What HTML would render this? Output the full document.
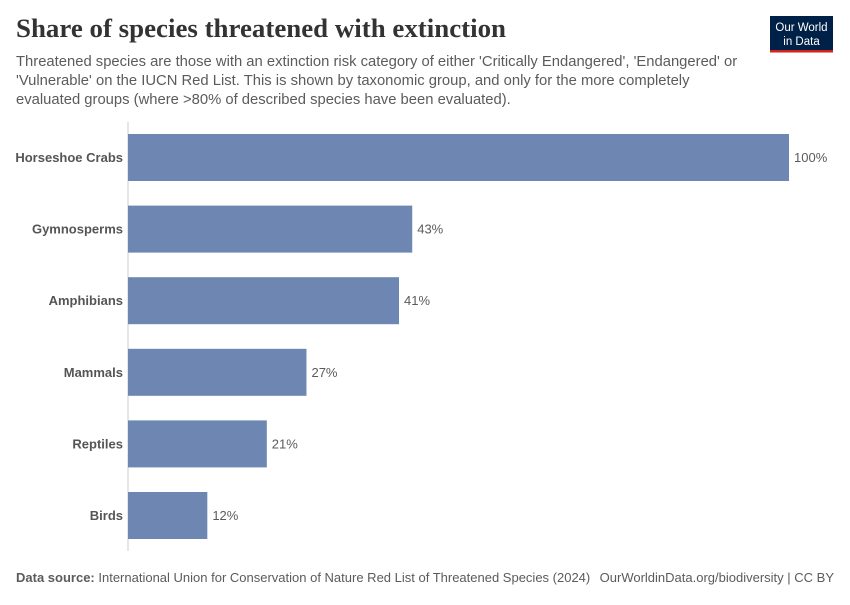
<!DOCTYPE html>
<html><head><meta charset="utf-8"><style>
body{margin:0;background:#fff;width:850px;height:600px;overflow:hidden;font-family:"Liberation Sans",sans-serif;}
</style></head><body>
<svg width="850" height="600" xmlns="http://www.w3.org/2000/svg">
<text x="16" y="37" font-family="Liberation Serif,serif" font-size="26" font-weight="bold" fill="#333" textLength="490" lengthAdjust="spacingAndGlyphs">Share of species threatened with extinction</text>
<g font-size="14.8" fill="#5b5b5b">
<text x="16" y="66">Threatened species are those with an extinction risk category of either 'Critically Endangered', 'Endangered' or</text>
<text x="16" y="85">'Vulnerable' on the IUCN Red List. This is shown by taxonomic group, and only for the more completely</text>
<text x="16" y="104">evaluated groups (where &gt;80% of described species have been evaluated).</text>
</g>
<g>
<rect x="770" y="16" width="63" height="34" fill="#002147"/>
<rect x="770" y="50" width="63" height="2.5" fill="#ce261e"/>
<text x="801.5" y="31" font-size="11.5" fill="#fff" text-anchor="middle">Our World</text>
<text x="801.5" y="45" font-size="11.5" fill="#fff" text-anchor="middle">in Data</text>
</g>
<line x1="128" y1="122" x2="128" y2="551" stroke="#ccc"/>
<g id="bars"></g>
<text x="16" y="582" font-size="13" fill="#5b5b5b"><tspan font-weight="bold">Data source:</tspan> International Union for Conservation of Nature Red List of Threatened Species (2024)</text>
<text x="834" y="582" font-size="13" fill="#5b5b5b" text-anchor="end">OurWorldinData.org/biodiversity | CC BY</text>
</svg>
<script>
const categories=["Horseshoe Crabs","Gymnosperms","Amphibians","Mammals","Reptiles","Birds"];
const values=[100,43,41,27,21,12];
const NS="http://www.w3.org/2000/svg";
const g=document.getElementById("bars");
const x0=128,xw=661,yTop=134,step=71.6,bh=47;
const xs=v=>x0+v/100*xw;
categories.forEach((c,i)=>{
  const y=yTop+i*step;
  const r=document.createElementNS(NS,"rect");
  
  
  r.setAttribute("x",x0);r.setAttribute("y",y);r.setAttribute("width",xs(values[i])-x0);r.setAttribute("height",bh);r.setAttribute("fill","#6d87b2");
  g.appendChild(r);
  const l=document.createElementNS(NS,"text");
  
  
  l.setAttribute("x",123);l.setAttribute("y",y+bh/2+4.5);l.setAttribute("text-anchor","end");l.setAttribute("font-size","13");l.setAttribute("font-weight","bold");l.setAttribute("fill","#555");
  l.textContent=c;g.appendChild(l);
  const v=document.createElementNS(NS,"text");
  
  
  v.setAttribute("x",xs(values[i])+5);v.setAttribute("y",y+bh/2+4.5);v.setAttribute("font-size","13");v.setAttribute("fill","#5b5b5b");
  v.textContent=values[i]+"%";g.appendChild(v);
});
</script>
</body></html>
